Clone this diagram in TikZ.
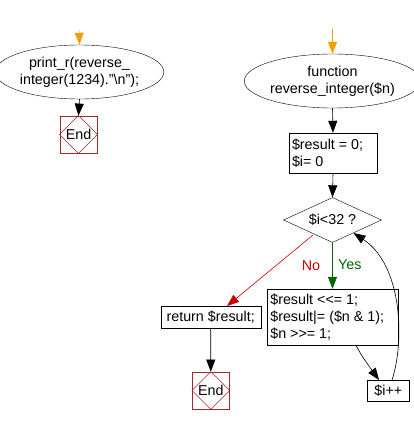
\documentclass[tikz,border=0pt]{standalone}
\usepackage{fontspec}
\setmainfont{Liberation Sans}
\usetikzlibrary{shapes.geometric,arrows.meta}
\definecolor{flow}{HTML}{F5A000}
\definecolor{endred}{HTML}{A02828}
\definecolor{noRed}{HTML}{CC0000}
\definecolor{yesGreen}{HTML}{006400}
\tikzset{
  every node/.style={font=\fontsize{14.3pt}{17.3pt}\selectfont},
  arr/.style={-{Triangle[length=12pt,width=9pt]}, line width=0.6pt},
  oval/.style={draw, ellipse, inner sep=0pt, align=center},
  dec/.style={draw, diamond, inner sep=0pt, minimum width=98pt, minimum height=45pt, aspect=2.18},
  endbox/.style={draw=endred, line width=0.8pt, rectangle, minimum size=37pt, inner sep=0pt}
}
\newcommand{\stopdiamond}[1]{%
  \draw[endred, line width=0.5pt] (#1.north) -- (#1.east) -- (#1.south) -- (#1.west) -- cycle;}
\begin{document}
\begin{tikzpicture}[x=1pt,y=-1pt]
\useasboundingbox (0,0) rectangle (413,425);
% left flow
\coordinate (s1) at (79,30);
\node[oval, minimum width=147pt, minimum height=54pt] (e1) at (79.5,72) {print\_r(reverse\_\\integer(1234)."\textbackslash n");};
\node[endbox] (end1) at (78.5,134.5) {};
\stopdiamond{end1}
\node at (end1) {End};
\draw[arr, flow] (s1) -- (e1.north);
\draw[arr] (e1.south) -- (end1.north);
% right flow
\coordinate (s2) at (332.5,29);
\node[oval, minimum width=153pt, minimum height=54pt] (e2) at (332.5,81) {function\\reverse\_integer(\$n)};
\node[draw, rectangle, minimum width=88pt, minimum height=40pt, inner sep=0pt] (init) at (333,153) {};
\node[anchor=west, align=left, inner sep=0pt] at ([xshift=3pt]init.west) {\$result = 0;\\\$i= 0};
\node[dec] (dia) at (332.5,220) {\$i<32 ?};
\node[draw, rectangle, minimum width=130.4pt, minimum height=56pt, inner sep=0pt] (body) at (332.5,317) {};
\node[anchor=west, align=left, inner sep=0pt] at ([xshift=3pt]body.west) {\$result <{}<= 1;\\\$result|= (\$n \& 1);\\\$n >{}>= 1;};
\node[draw, rectangle, minimum width=100pt, minimum height=22.3pt, inner sep=0pt] (ret) at (210.7,317) {return \$result;};
\node[endbox] (end2) at (210.8,390.5) {};
\stopdiamond{end2}
\node at (end2) {End};
\node[draw, rectangle, minimum width=42pt, minimum height=21pt, inner sep=0pt] (inc) at (388.3,390.5) {\$i++};
\draw[arr, flow] (s2) -- (e2.north);
\draw[arr] (e2.south) -- (init.north);
\draw[arr] (init.south) -- (dia.north);
\draw[arr, yesGreen] (dia.south) -- node[right, pos=0.48, xshift=2pt] {Yes} (body.north);
\node[noRed] at (311,266) {No};
\coordinate (noStart) at (313,235);
\coordinate (retIn) at (227,306);
\draw[arr, noRed] (noStart) -- (retIn);
\draw[arr] (ret.south) -- (end2.north);
\coordinate (bodyOut) at (356,345.3);
\coordinate (incIn) at (379,380);
\draw[arr] (bodyOut) .. controls (361,355) and (366,362) .. (incIn);
\coordinate (incOut) at (392,380);
\coordinate (diaIn) at (353.5,233);
\draw[arr] (incOut) .. controls (405,340) and (402,265) .. (diaIn);
\end{tikzpicture}
\end{document}
